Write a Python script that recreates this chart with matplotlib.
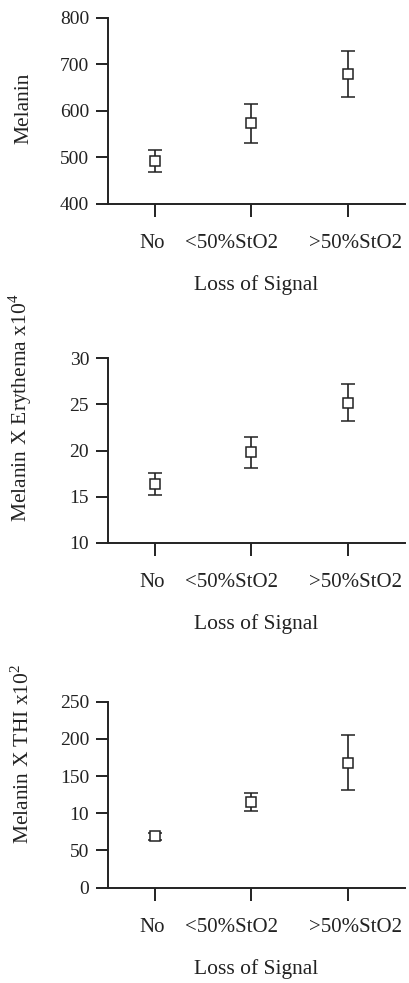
import matplotlib
matplotlib.use("Agg")
import matplotlib.pyplot as plt
from matplotlib.transforms import ScaledTranslation

plt.rcParams['font.family'] = ['Liberation Serif', 'DejaVu Serif']
plt.rcParams['mathtext.fontset'] = 'custom'
plt.rcParams['mathtext.rm'] = 'Liberation Serif'

# Data (mean and error half-width)
groups = ["No", "<50%StO2", ">50%StO2"]

melanin_mean = [493, 574, 679]
melanin_err = [24, 42, 50]

mel_ery_mean = [16.4, 19.8, 25.2]
mel_ery_err = [1.2, 1.65, 2.05]

mel_thi_mean = [69, 115, 168]
mel_thi_err = [4.5, 11.7, 37]

melanin_ticks = [400, 500, 600, 700, 800]
mel_ery_ticks = [10, 15, 20, 25, 30]
mel_thi_ticks = [0, 50, 100, 150, 200, 250]
mel_thi_ticklabels = ["0", "50", "10", "150", "200", "250"]  # "10" as printed in the original

ink = "#222222"
# the category labels are not quite centred under their ticks in the original
label_shift_px = [-3, -20, 8]


def draw_panel(ax, means, errs, ticks, ticklabels, ylabel, label_y):
    x = range(len(groups))
    ax.errorbar(x, means, yerr=errs, fmt="s", mfc="white", mec=ink, ms=6.5,
                mew=1.1, ecolor=ink, elinewidth=1.2, capsize=5, capthick=1.2)
    ax.set_xlim(-0.49, 2.59)
    ax.set_ylim(ticks[0], ticks[-1])
    ax.set_yticks(ticks)
    ax.set_yticklabels(ticklabels)
    ax.set_xticks(list(x))
    ax.set_xticklabels(groups)
    for s in ("top", "right"):
        ax.spines[s].set_visible(False)
    for s in ("left", "bottom"):
        ax.spines[s].set_linewidth(1.4)
        ax.spines[s].set_color(ink)
    ax.tick_params(axis="y", direction="out", length=8.5, width=1.4,
                   color=ink, labelsize=14, pad=5, labelcolor=ink)
    ax.tick_params(axis="x", direction="out", length=9.5, width=1.4,
                   color=ink, labelsize=15, pad=12, labelcolor=ink)
    for lab, dx in zip(ax.get_xticklabels(), label_shift_px):
        lab.set_transform(lab.get_transform() +
                          ScaledTranslation(dx / 100, 0, ax.figure.dpi_scale_trans))
    ax.set_xlabel("Loss of Signal", fontsize=15.5, color=ink, labelpad=16)
    ax.set_ylabel(ylabel, fontsize=15.5, color=ink)
    ax.yaxis.set_label_coords(-0.25, label_y)


fig = plt.figure(figsize=(4.1, 9.83), dpi=100)

ax1 = fig.add_axes([0.263, 0.7925, 0.724, 0.1892])
ax2 = fig.add_axes([0.263, 0.4479, 0.724, 0.1876])
ax3 = fig.add_axes([0.263, 0.0970, 0.724, 0.1892])

draw_panel(ax1, melanin_mean, melanin_err, melanin_ticks,
           [str(t) for t in melanin_ticks], "Melanin", 0.516)
draw_panel(ax2, mel_ery_mean, mel_ery_err, mel_ery_ticks,
           [str(t) for t in mel_ery_ticks],
           r"Melanin X Erythema x10$^{4}$", 0.73)
draw_panel(ax3, mel_thi_mean, mel_thi_err, mel_thi_ticks,
           mel_thi_ticklabels, r"Melanin X THI x10$^{2}$", 0.72)

fig.savefig("out.png", dpi=100)
